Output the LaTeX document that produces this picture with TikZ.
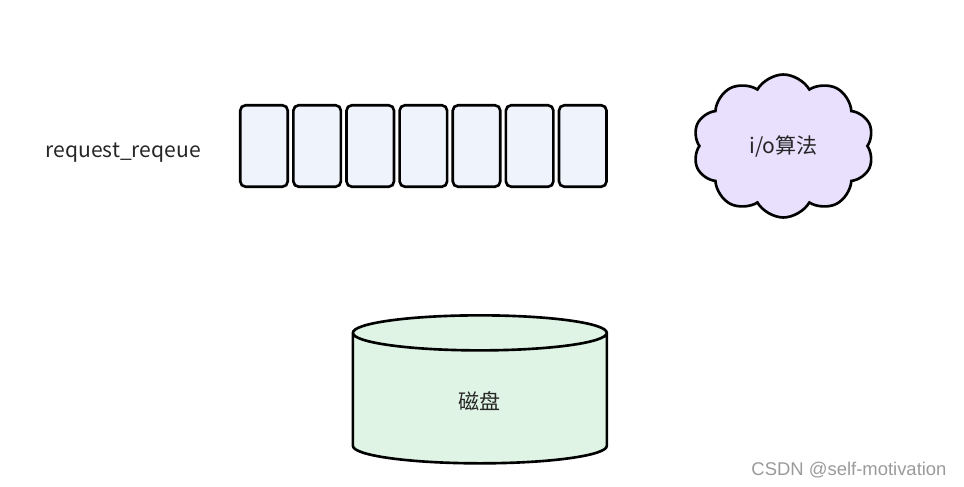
\documentclass[tikz,border=0pt]{standalone}
\usepackage{fontspec}
\newfontfamily\cjk{Noto Sans CJK SC}
\newfontfamily\wmfont{Liberation Sans}
\usetikzlibrary{positioning,shapes.geometric,shapes.symbols}
\definecolor{slotfill}{HTML}{EFF4FC}
\definecolor{cloudfill}{HTML}{E8E0FC}
\definecolor{diskfill}{HTML}{DFF4E5}
\definecolor{wmgray}{HTML}{9A9A9A}

\begin{document}
\begin{tikzpicture}[
    x=0.02cm,y=0.02cm,
    node distance=0.06cm,
    every node/.style={font=\cjk\fontsize{12}{14}\selectfont,align=center,text=black!85},
    slot/.style={rectangle,rounded corners=3pt,draw=black,line width=1.5pt,fill=slotfill,minimum width=0.95cm,minimum height=1.63cm,inner sep=0pt},
    algo/.style={cloud,cloud puffs=10,cloud puff arc=120,aspect=1.25,draw=black,line width=1.5pt,fill=cloudfill,minimum width=3.62cm,minimum height=2.86cm},
    disk/.style={cylinder,shape border rotate=90,aspect=0.65,draw=black,line width=1.5pt,fill=diskfill,minimum width=5.08cm,minimum height=2.96cm}
  ]
    \useasboundingbox (0,0) rectangle (964,487);
    \node[slot] (s1) at (264,341) {};
    \node[slot,right=of s1] (s2) {};
    \node[slot,right=of s2] (s3) {};
    \node[slot,right=of s3] (s4) {};
    \node[slot,right=of s4] (s5) {};
    \node[slot,right=of s5] (s6) {};
    \node[slot,right=of s6] (s7) {};
    \node[left=0.64cm of s1,yshift=-0.14cm] (req) {request\_reqeue};
    \node[algo,right=1.8cm of s7] (algo) {i/o算法};
    \node[disk,below=2.52cm of s4.south,xshift=1.13cm] (disk) {磁盘};
    \node[font=\wmfont\fontsize{10.5}{12}\selectfont,text=wmgray] (mark) at (849,17) {CSDN @self-motivation};
  \end{tikzpicture}
\end{document}
